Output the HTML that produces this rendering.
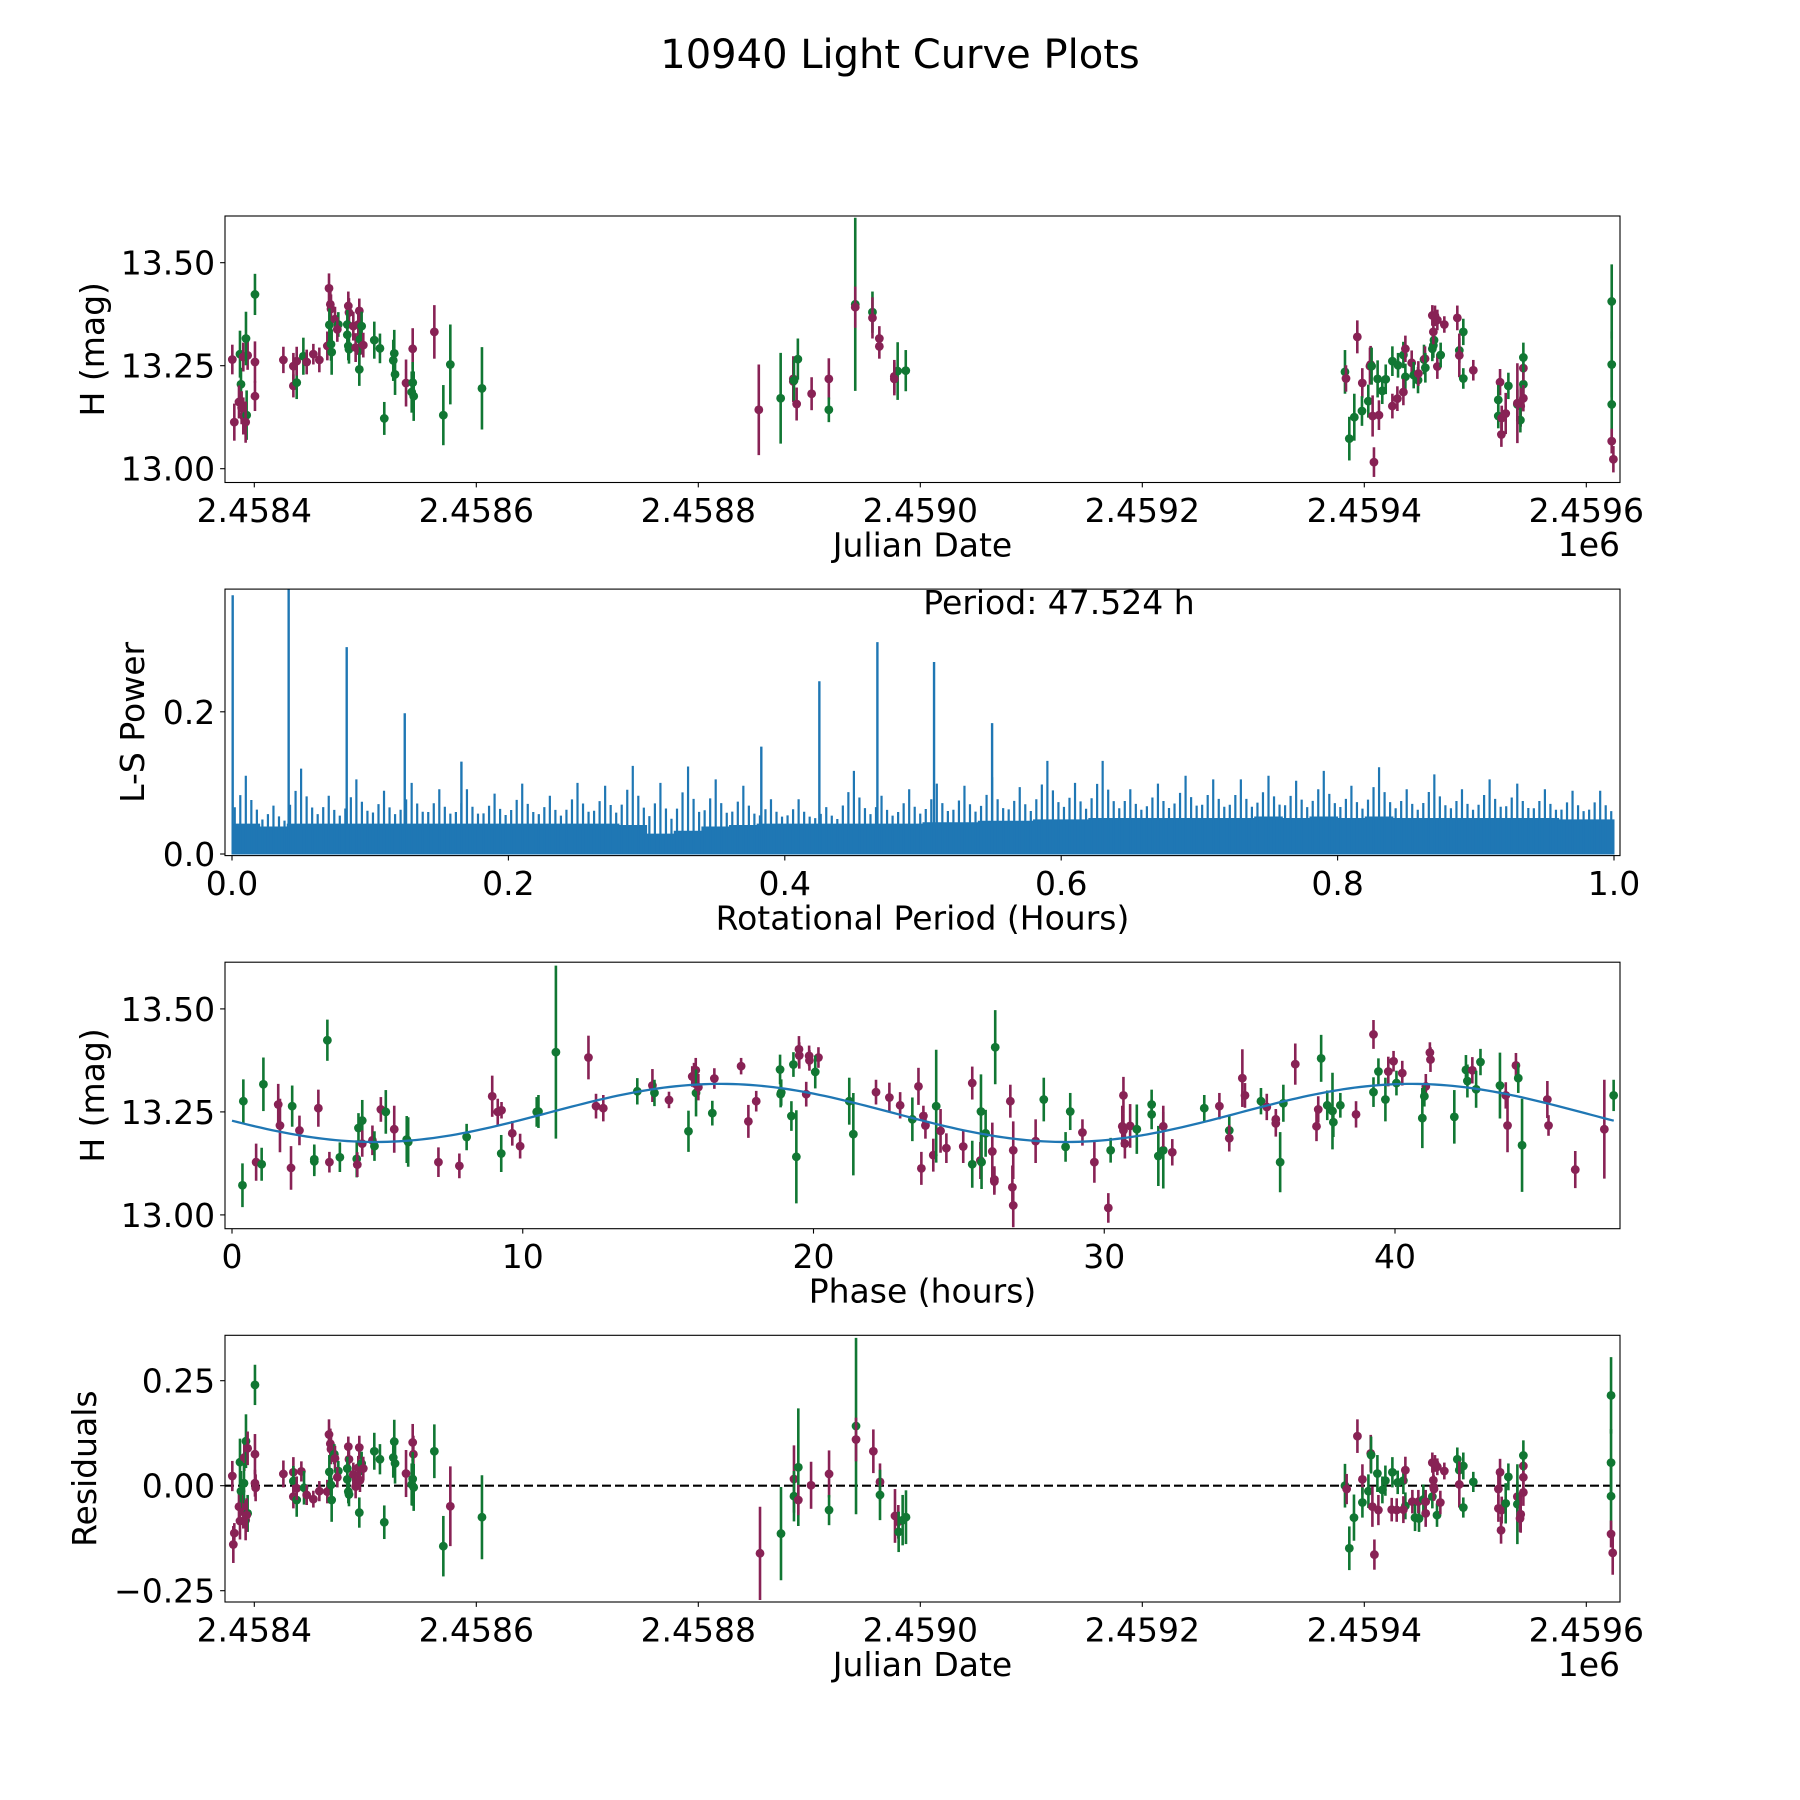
<!DOCTYPE html>
<html><head><meta charset="utf-8"><title>10940 Light Curve Plots</title>
<style>
html,body{margin:0;padding:0;background:#fff;}
svg{display:block;font-family:"DejaVu Sans","Liberation Sans",sans-serif;}
</style></head>
<body>
<svg id="fig" width="1800" height="1800" viewBox="0 0 1800 1800" xmlns="http://www.w3.org/2000/svg">
<rect x="0" y="0" width="1800" height="1800" fill="#fff"/>
<text x="900" y="68" font-size="40" text-anchor="middle">10940 Light Curve Plots</text>
<defs>
<clipPath id="c1"><rect x="225" y="216" width="1395" height="266.5"/></clipPath>
<clipPath id="c2"><rect x="225" y="589.1" width="1395" height="266.5"/></clipPath>
<clipPath id="c3"><rect x="225" y="962.2" width="1395" height="266.5"/></clipPath>
<clipPath id="c4"><rect x="225" y="1335.3" width="1395" height="266.7"/></clipPath>
</defs>
</svg>
<script>
// ---------- Panel 1: light curve (JD offset from 2458400) ----------
const lcJd = [-19.8,-12.9,-12.0,-13.8,-18.0,-11.4,-9.9,-6.9,-7.8,-9.9,
-6.0,-7.5,0.6,0.6,0.6,26.2,35.2,35.2,38.2,38.2,
44.2,47.2,53.2,58.6,65.8,67.3,68.5,69.1,67.6,69.7,
69.1,72.7,75.7,74.8,84.7,85.3,83.8,83.8,84.7,85.3,
89.2,91.3,93.7,94.6,96.7,94.6,94.6,95.2,98.2,108.1,
113.2,126.1,125.2,126.8,136.7,142.7,142.7,141.8,143.6,117.1,
162.2,176.6,170.3,205.1,
454.5,474.2,485.6,485.6,486.2,489.7,488.6,502.1,517.6,517.6,
541.4,541.4,556.9,556.9,563.1,563.1,576.6,579.6,576.6,586.9,
982.6,983.5,986.5,993.7,991.0,998.2,997.9,1003.6,1005.7,1005.1,
1006.6,1007.5,1008.7,1012.0,1013.2,1016.2,1019.3,1025.3,1025.3,1030.4,
1029.8,1035.2,1037.0,1037.0,1035.2,1042.7,1044.5,1048.4,1048.7,1053.8,
1054.7,1055.0,1061.3,1061.3,1062.2,1062.8,1062.2,1065.8,1063.7,1065.8,
1068.8,1072.1,1083.8,1089.2,1085.6,1085.6,1089.2,1098.2,1122.3,1120.7,
1120.7,1123.8,1123.5,1127.4,1129.8,1137.9,1140.9,1140.6,1137.9,1143.3,
1143.3,1143.3,1143.3,1222.9,1222.9,1222.9,1222.9,1224.4];
const lcMag = [13.265,13.278,13.205,13.162,13.113,13.148,13.128,13.130,13.113,13.271,
13.275,13.316,13.423,13.259,13.176,13.264,13.249,13.201,13.209,13.261,
13.273,13.259,13.278,13.264,13.298,13.438,13.399,13.388,13.349,13.283,
13.302,13.363,13.350,13.338,13.395,13.379,13.350,13.325,13.298,13.290,
13.346,13.294,13.350,13.383,13.346,13.286,13.241,13.314,13.300,13.312,
13.292,13.280,13.263,13.229,13.208,13.291,13.209,13.186,13.176,13.122,
13.332,13.253,13.130,13.195,
13.143,13.171,13.218,13.212,13.214,13.266,13.157,13.182,13.218,13.143,
13.399,13.392,13.380,13.366,13.316,13.297,13.224,13.237,13.218,13.238,
13.235,13.219,13.073,13.320,13.125,13.208,13.140,13.164,13.253,13.249,
13.249,13.128,13.016,13.218,13.130,13.189,13.217,13.261,13.152,13.251,
13.170,13.276,13.291,13.223,13.186,13.257,13.227,13.215,13.231,13.265,
13.267,13.245,13.372,13.291,13.299,13.312,13.332,13.361,13.371,13.248,
13.276,13.350,13.366,13.332,13.287,13.275,13.219,13.239,13.210,13.167,
13.128,13.123,13.083,13.134,13.201,13.156,13.152,13.118,13.159,13.205,
13.171,13.244,13.270,13.406,13.253,13.156,13.067,13.023];
const lcErr = [.036,.057,.04,.04,.045,.04,.045,.06,.05,.035,
.035,.065,.05,.05,.036,.032,.032,.028,.04,.035,
.045,.03,.025,.03,.035,.036,.035,.035,.04,.055,
.04,.03,.03,.03,.035,.035,.035,.035,.035,.035,
.035,.035,.035,.03,.035,.035,.04,.035,.03,.045,
.036,.057,.05,.05,.057,.05,.05,.05,.06,.04,
.065,.097,.073,.10,
.11,.11,.055,.05,.05,.05,.04,.04,.05,.03,
.21,.05,.05,.05,.03,.03,.04,.07,.04,.05,
.053,.032,.053,.04,.057,.036,.036,.04,.045,.045,
.045,.05,.036,.045,.036,.032,.036,.036,.03,.03,
.03,.032,.032,.032,.032,.03,.032,.032,.03,.036,
.03,.036,.025,.03,.03,.03,.03,.025,.025,.03,
.03,.02,.03,.032,.03,.053,.025,.025,.032,.036,
.03,.03,.03,.05,.032,.036,.05,.03,.097,.032,
.032,.03,.036,.09,.08,.09,.03,.032];
const lcFilter = "mggmmmmgmm mggmmmmmgm gmmmmmmmgg gmgmmmgggg mmmmgmggmg ggggmmgggg mggg mgmmggmmmg gmgmmmmgmg gmgmgmggmm gmmgmgggmg mgmgmmggmg mgmgggmmmmg mmggmgmmgg mmmggmgmgm mggggmmm".replace(/ /g,"");

// ---------- Panel 2: Lomb-Scargle periodogram ----------
const lsBinWidth = 0.02;
const lsTypical = [0.042,0.038,0.042,0.042,0.042,0.042,0.042,0.042,0.042,0.042,
0.042,0.042,0.042,0.042,0.04,0.028,0.032,0.038,0.04,0.042,
0.042,0.042,0.042,0.042,0.042,0.044,0.044,0.046,0.046,0.048,
0.048,0.05,0.05,0.05,0.05,0.05,0.05,0.052,0.05,0.052,
0.05,0.052,0.05,0.05,0.05,0.05,0.05,0.05,0.048,0.048];
const lsPeaks = [0.11,0.068,0.12,0.082,0.105,0.089,0.10,0.091,0.091,0.085,
0.099,0.082,0.10,0.096,0.124,0.10,0.123,0.105,0.096,0.077,
0.077,0.066,0.117,0.082,0.091,0.099,0.096,0.108,0.094,0.131,
0.10,0.131,0.091,0.099,0.110,0.105,0.105,0.110,0.103,0.117,
0.096,0.122,0.091,0.112,0.091,0.105,0.099,0.091,0.089,0.089];
const lsSpikeHours = [0.0005,0.041,0.083,0.125,0.166,0.383,0.425,0.467,0.508,0.550];
const lsSpikePower = [0.364,0.380,0.291,0.198,0.130,0.151,0.243,0.298,0.270,0.184];

// ---------- Panel 3: phased light curve ----------
const phPhase = [0.39,0.36,0.83,1.02,1.08,1.59,1.65,2.07,2.03,2.32,
2.83,2.83,2.97,3.28,3.35,3.71,4.29,4.31,4.35,4.48,
4.48,4.83,4.90,5.12,5.29,5.58,6.01,6.06,7.10,7.82,
8.07,8.95,9.14,9.27,9.26,9.64,9.91,10.48,10.54,11.14,
12.26,12.52,12.77,13.94,14.46,14.53,15.03,15.70,15.83,
15.89,15.95,15.96,16.04,16.52,16.59,17.51,17.76,18.03,18.85,
18.87,18.89,19.24,19.31,19.41,19.50,19.51,19.85,19.86,20.17,
20.06,19.75,21.23,21.37,22.15,22.61,22.98,23.40,23.61,23.78,
23.85,23.71,24.12,24.22,24.37,24.57,25.15,25.46,25.46,25.74,
25.76,25.78,25.92,26.25,26.15,26.22,26.22,26.77,26.87,26.84,
26.87,27.64,27.92,28.67,28.83,29.25,29.66,30.14,30.22,30.62,
30.66,30.66,30.71,30.89,31.12,31.63,31.63,31.86,
32.03,32.03,32.34,33.44,33.96,34.30,34.30,34.75,34.84,35.39,
35.59,35.90,35.90,36.05,36.16,36.57,37.46,37.30,37.36,37.67,
37.85,37.88,38.12,38.66,39.26,39.26,39.43,39.67,39.77,39.95,
40.05,40.25,41.06,41.01,40.94,41.20,41.22,42.04,42.44,42.49,
42.66,42.79,42.94,43.61,43.81,43.87,44.16,44.24,44.37,45.24,
45.28,46.20,47.20,47.52];
const phMag = [13.276,13.072,13.128,13.123,13.317,13.268,13.217,13.264,13.114,13.205,
13.130,13.135,13.259,13.424,13.128,13.140,13.136,13.122,13.211,13.229,
13.173,13.181,13.167,13.256,13.250,13.208,13.183,13.177,13.128,13.119,
13.189,13.288,13.250,13.254,13.149,13.198,13.167,13.250,13.251,13.395,
13.382,13.264,13.259,13.300,13.314,13.296,13.279,13.203,13.336,
13.339,13.351,13.296,13.310,13.247,13.331,13.361,13.227,13.276,13.353,
13.293,13.297,13.240,13.365,13.141,13.402,13.387,13.386,13.375,13.382,
13.347,13.293,13.276,13.196,13.298,13.285,13.266,13.232,13.312,13.240,
13.217,13.113,13.145,13.264,13.204,13.162,13.166,13.320,13.123,13.132,
13.251,13.128,13.198,13.407,13.154,13.086,13.081,13.276,13.157,13.067,
13.023,13.179,13.280,13.165,13.251,13.200,13.128,13.017,13.157,13.215,
13.290,13.205,13.173,13.216,13.208,13.268,13.244,13.143,
13.157,13.215,13.152,13.259,13.264,13.205,13.186,13.332,13.290,13.276,
13.262,13.232,13.222,13.128,13.271,13.366,13.380,13.215,13.256,13.266,
13.252,13.225,13.266,13.244,13.438,13.298,13.348,13.280,13.348,13.373,
13.320,13.344,13.312,13.288,13.235,13.394,13.377,13.238,13.352,13.325,
13.351,13.305,13.371,13.314,13.290,13.217,13.363,13.332,13.169,13.280,
13.217,13.110,13.208,13.290];
const phErr = [.053,.053,.045,.04,.065,.05,.065,.05,.053,.036,
.036,.036,.045,.05,.025,.036,.045,.03,.036,.05,
.032,.036,.036,.03,.053,.057,.057,.06,.036,.03,
.032,.05,.032,.02,.045,.03,.03,.036,.04,.21,
.053,.03,.032,.032,.04,.032,.02,.05,.025,
.03,.03,.057,.032,.03,.025,.02,.04,.025,.036,
.032,.032,.036,.03,.113,.032,.032,.025,.025,.025,
.04,.03,.057,.1,.03,.036,.032,.053,.045,.025,
.032,.04,.04,.137,.053,.036,.04,.04,.057,.045,
.09,.065,.057,.09,.07,.032,.032,.04,.07,.053,
.053,.053,.053,.036,.045,.032,.05,.036,.03,.05,
.045,.04,.036,.053,.06,.036,.036,.073,
.093,.05,.032,.032,.032,.036,.032,.07,.03,.032,
.032,.025,.032,.073,.045,.05,.057,.036,.032,.036,
.093,.036,.03,.032,.035,.036,.032,.053,.036,.025,
.03,.03,.03,.025,.073,.025,.03,.065,.036,.04,
.032,.045,.032,.08,.032,.065,.03,.036,.113,.045,
.025,.045,.12,.038];
const phFilter = "ggmggmmgmm ggmgmggmgg mmgmgmggmm gmmmgmmggg mmmgmgmgm mmgmgmmmmg gggggmmmmm gmggmmmgmm mmmgmmmmgm ggggmmmmmm mmgggmmmgm mmmmgggg gmmgmgmmmg mmmggmgmmg gggmmgggmm gmmggmmgggm gggmmmggmm mmgg".replace(/ /g,"");

// Sinusoidal model fit (folded at P = 47.524 h, two cycles)
const modelMean = 13.2475;
const modelAmp = 0.0705;
const modelHalfPeriod = 23.762;
const modelPhase0 = 10.86;

// ---------- Panel 4: residuals ----------
const resJd = [-19.8,-12.9,-18.0,-18.9,-13.8,-12.0,-12.9,-9.9,-9.0,-7.5,
-6.0,-9.3,-7.8,-6.0,-6.9,0.6,0.6,0.6,1.2,26.2,
35.2,35.2,35.2,38.2,38.2,42.4,44.8,47.2,53.2,58.6,
65.8,67.3,68.5,69.1,67.6,69.7,69.1,72.1,72.7,75.7,
74.8,84.7,85.3,83.8,83.8,84.7,85.3,89.2,91.3,94.6,
93.7,96.7,95.2,94.6,98.2,108.1,113.2,126.1,125.2,126.8,
136.7,142.7,143.3,142.7,141.8,143.6,117.1,162.2,176.6,170.3,
205.1,
455.6,474.5,486.2,486.2,490.1,490.1,501.6,517.8,517.8,542.1,
542.1,557.7,563.7,563.7,577.2,580.2,580.5,584.1,587.1,
982.6,984.1,986.5,993.8,990.7,998.3,998.3,1003.7,1005.8,1006.1,
1007.3,1009.1,1011.8,1012.7,1016.3,1019.0,1025.3,1024.7,1030.1,1029.2,
1035.2,1037.0,1037.0,1035.2,1043.3,1045.7,1049.3,1048.7,1053.2,1055.3,
1055.3,1061.3,1061.3,1062.5,1062.2,1062.8,1065.8,1063.7,1065.5,1068.5,
1072.1,1083.8,1089.2,1085.6,1085.6,1089.2,1098.2,1122.3,1120.8,1120.8,
1123.8,1123.2,1127.4,1129.8,1137.9,1137.9,1140.3,1140.9,1143.3,1143.3,
1143.3,1143.3,1222.3,1222.3,1222.3,1222.3,1223.8];
const resVal = [0.023,0.056,-0.113,-0.140,-0.050,-0.013,-0.084,-0.062,0.067,0.106,
0.089,0.006,-0.082,-0.066,-0.070,0.240,0.075,0.006,-0.005,0.028,
0.032,0.011,-0.026,-0.034,-0.006,0.034,-0.005,-0.022,-0.032,-0.013,
-0.014,0.122,0.100,0.087,0.033,-0.034,0.002,0.075,0.065,0.035,
0.020,0.093,0.063,0.041,0.015,-0.014,-0.021,0.027,-0.002,0.091,
0.043,0.053,0.013,-0.064,0.041,0.082,0.063,0.105,0.067,0.053,
0.029,0.103,0.075,0.016,0.003,-0.004,-0.087,0.082,-0.049,-0.144,
-0.075,
-0.161,-0.114,0.016,-0.025,0.044,-0.034,0.001,0.028,-0.058,0.142,
0.110,0.082,0.009,-0.022,-0.072,-0.086,-0.110,-0.082,-0.075,
0.000,-0.008,-0.149,0.118,-0.076,0.015,-0.040,-0.013,0.077,0.073,
-0.050,-0.164,0.029,-0.058,-0.010,0.012,0.032,-0.057,0.008,-0.058,
0.012,0.037,-0.048,-0.057,-0.038,-0.076,-0.078,-0.038,-0.033,-0.038,
-0.066,0.055,-0.026,-0.003,0.013,-0.008,0.045,0.053,-0.070,-0.040,
0.035,0.063,0.047,0.037,0.003,-0.052,0.009,0.032,-0.008,-0.054,
-0.058,-0.106,-0.042,0.021,-0.026,-0.044,-0.078,-0.068,0.020,-0.016,
0.047,0.072,0.215,0.055,-0.025,-0.115,-0.160];
const resErr = [.036,.056,.024,.044,.036,.048,.044,.04,.032,.064,
.04,.048,.048,.044,.04,.048,.048,.032,.032,.032,
.036,.036,.028,.04,.028,.024,.04,.024,.02,.024,
.028,.036,.036,.036,.04,.052,.04,.024,.03,.024,
.024,.024,.024,.028,.028,.028,.028,.028,.028,.028,
.028,.028,.028,.036,.028,.044,.036,.052,.048,.048,
.056,.044,.044,.064,.05,.056,.04,.064,.095,.072,
.1,
.111,.111,.08,.06,.14,.036,.056,.056,.036,.21,
.052,.052,.044,.06,.064,.04,.048,.06,.064,
.052,.036,.052,.04,.055,.036,.036,.04,.044,.044,
.048,.036,.044,.036,.032,.036,.036,.028,.028,.028,
.032,.032,.032,.032,.028,.032,.032,.028,.036,.028,
.032,.024,.028,.028,.028,.028,.02,.02,.028,.028,
.02,.028,.032,.032,.055,.024,.024,.032,.036,.032,
.032,.032,.048,.032,.036,.095,.032,.044,.032,.032,
.028,.036,.091,.08,.087,.032,.052];
const resFilter = "mgmmmgmmmg mgmgmgmmmm mgmgmmgmmm mmmmggggmg mmmggggmmm mgmgmggggg mmmgggggmg g mgmggmmmgg mmmgmmggg gmgmgmggmg mmgmgggmgm gmgmmggmgm mmgmmmmmgm mgggmggmmm mmggmgmmmm mggggmmm".replace(/ /g,"");

// ---------- axes geometry / scale functions ----------
const L = 225, R = 1620;
const FS = 33;
const P1 = {top:216, bot:482.5}, P2 = {top:589.1, bot:855.6}, P3 = {top:962.2, bot:1228.7}, P4 = {top:1335.3, bot:1602};
function xJd(d){ return 254.3 + d*1.11; }
function yMag1(m){ return 262.7 + (13.5-m)*412; }
function yMag3(m){ return 1008.9 + (13.5-m)*412; }
function yRes(r){ return 1485.7 - r*420; }
function xPh(p){ return 232 + p*29.075; }
function xHr(h){ return 232 + h*1382; }
function yPow(v){ return 854 - v*711; }

const jdTicks = [0,200,400,600,800,1000,1200];
const jdTickLabels = ["2.4584","2.4586","2.4588","2.4590","2.4592","2.4594","2.4596"];
const magTicks = [13.0,13.25,13.5];
const magTickLabels = ["13.00","13.25","13.50"];
const hrTicks = [0,0.2,0.4,0.6,0.8,1.0];
const hrTickLabels = ["0.0","0.2","0.4","0.6","0.8","1.0"];
const powTicks = [0,0.2];
const powTickLabels = ["0.0","0.2"];
const phTicks = [0,10,20,30,40];
const phTickLabels = ["0","10","20","30","40"];
const resTicks = [-0.25,0,0.25];
const resTickLabels = ["\u22120.25","0.00","0.25"];

const NS = "http://www.w3.org/2000/svg";
const svg = document.getElementById("fig");
const COL = {m:"#882255", g:"#117733"};
function mk(tag, attrs, parent){
  const e = document.createElementNS(NS, tag);
  for (const k in attrs) e.setAttribute(k, attrs[k]);
  (parent||svg).appendChild(e);
  return e;
}
function txt(parent, x, y, s, size, anchor, extra){
  const t = mk("text", Object.assign({x:x, y:y, "font-size":size, "text-anchor":anchor||"middle", fill:"#000"}, extra||{}), parent);
  t.textContent = s;
  return t;
}

function makeAxes(name, p, clipId){
  const g = mk("g", {});
  
  
  const plot = mk("g", {"clip-path":"url(#"+clipId+")"}, g);
  
  
  return {g:g, plot:plot, p:p};
}
function frame(ax){
  const f = mk("rect", {x:L, y:ax.p.top, width:R-L, height:ax.p.bot-ax.p.top, fill:"none", stroke:"#000", "stroke-width":1.1}, ax.g);
  
  
}
function xTicks(ax, vals, labels, fx){
  const grp = mk("g", {}, ax.g);
  
  
  vals.forEach((v,i)=>{
    const x = fx(v);
    mk("line", {x1:x, x2:x, y1:ax.p.bot, y2:ax.p.bot+4.9, stroke:"#000", "stroke-width":1.1}, grp);
    const t = txt(grp, x, ax.p.bot+39.5, labels[i], FS, "middle");
    
    
  });
}
function yTicks(ax, vals, labels, fy){
  const grp = mk("g", {}, ax.g);
  
  
  vals.forEach((v,i)=>{
    const y = fy(v);
    mk("line", {x1:L-4.9, x2:L, y1:y, y2:y, stroke:"#000", "stroke-width":1.1}, grp);
    const t = txt(grp, L-9.8, y+12, labels[i], FS, "end");
    
    
  });
}
function xLabel(ax, s){
  const t = txt(ax.g, (L+R)/2, ax.p.bot+74, s, FS, "middle");
  
  
}
function yLabel(ax, s, x){
  const cy = (ax.p.top+ax.p.bot)/2;
  const t = txt(ax.g, x, cy, s, FS, "middle", {transform:"rotate(-90 "+x+" "+cy+")"});
  
  
}
function errPoints(ax, xs, ys, es, fs, fx, fy, name){
  const grp = mk("g", {}, ax.plot);
  
  
  for (let i=0;i<xs.length;i++){
    const c = COL[fs[i]] || COL.m;
    const x = fx(xs[i]);
    const bar = mk("line", {x1:x, x2:x, y1:fy(ys[i]+es[i]), y2:fy(ys[i]-es[i]), stroke:c, "stroke-width":2.6}, grp);
    
    
    const pt = mk("circle", {cx:x, cy:fy(ys[i]), r:4.4, fill:c}, grp);
    
    
  }
}

// ----- Panel 1 -----
const a1 = makeAxes("light-curve-axes", P1, "c1");
errPoints(a1, lcJd, lcMag, lcErr, lcFilter, xJd, yMag1, "light-curve-points");
frame(a1);
xTicks(a1, jdTicks, jdTickLabels, xJd);
yTicks(a1, magTicks, magTickLabels, yMag1);
xLabel(a1, "Julian Date");
yLabel(a1, "H (mag)", 104);
const off1 = txt(a1.g, 1620, 556, "1e6", FS, "end");



// ----- Panel 2 -----
const a2 = makeAxes("periodogram-axes", P2, "c2");
(function(){
  const grp = mk("g", {}, a2.plot);
  
  
  let d = "M" + xHr(0) + " " + yPow(0);
  lsTypical.forEach((v,i)=>{
    d += " L" + xHr(i*lsBinWidth) + " " + yPow(v) + " L" + xHr((i+1)*lsBinWidth) + " " + yPow(v);
  });
  d += " L" + xHr(lsTypical.length*lsBinWidth) + " " + yPow(0) + " Z";
  const area = mk("path", {d:d, fill:"#1f77b4", stroke:"#1f77b4", "stroke-width":1}, grp);
  
  
  lsPeaks.forEach((v,i)=>{
    const fr = [0.1,0.3,0.5,0.7,0.9];
    const wt = [0.35,0.6,1.0,0.5,0.3];
    fr.forEach((f,k)=>{
      const x = xHr((i+f)*lsBinWidth);
      const top = lsTypical[i] + (v - lsTypical[i])*wt[k];
      const ln = mk("line", {x1:x, x2:x, y1:yPow(0), y2:yPow(top), stroke:"#1f77b4", "stroke-width":2.2}, grp);
      
      
    });
  });
  lsSpikeHours.forEach((h,i)=>{
    const x = xHr(h);
    const ln = mk("line", {x1:x, x2:x, y1:yPow(0), y2:yPow(lsSpikePower[i]), stroke:"#1f77b4", "stroke-width":2.4}, grp);
    
    
  });
})();
frame(a2);
xTicks(a2, hrTicks, hrTickLabels, xHr);
yTicks(a2, powTicks, powTickLabels, yPow);
xLabel(a2, "Rotational Period (Hours)");
yLabel(a2, "L-S Power", 144);
const per = txt(a2.g, 1059, 614, "Period: 47.524 h", FS, "middle");



// ----- Panel 3 -----
const a3 = makeAxes("phase-fold-axes", P3, "c3");
errPoints(a3, phPhase, phMag, phErr, phFilter, xPh, yMag3, "phased-points");
(function(){
  let d = "";
  for (let i=0;i<=240;i++){
    const p = 47.524*i/240;
    const m = modelMean + modelAmp*Math.sin(2*Math.PI*(p-modelPhase0)/modelHalfPeriod);
    d += (i? " L":"M") + xPh(p).toFixed(2) + " " + yMag3(m).toFixed(2);
  }
  const c = mk("path", {d:d, fill:"none", stroke:"#1f77b4", "stroke-width":2.3}, a3.plot);
  
  
})();
frame(a3);
xTicks(a3, phTicks, phTickLabels, xPh);
yTicks(a3, magTicks, magTickLabels, yMag3);
xLabel(a3, "Phase (hours)");
yLabel(a3, "H (mag)", 104);

// ----- Panel 4 -----
const a4 = makeAxes("residuals-axes", P4, "c4");
const zl = mk("line", {x1:L, x2:R, y1:yRes(0), y2:yRes(0), stroke:"#000", "stroke-width":2.2, "stroke-dasharray":"9 4"}, a4.plot);


errPoints(a4, resJd, resVal, resErr, resFilter, xJd, yRes, "residual-points");
frame(a4);
xTicks(a4, jdTicks, jdTickLabels, xJd);
yTicks(a4, resTicks, resTickLabels, yRes);
xLabel(a4, "Julian Date");
yLabel(a4, "Residuals", 96);
const off4 = txt(a4.g, 1620, 1676, "1e6", FS, "end");


</script>
</body></html>
